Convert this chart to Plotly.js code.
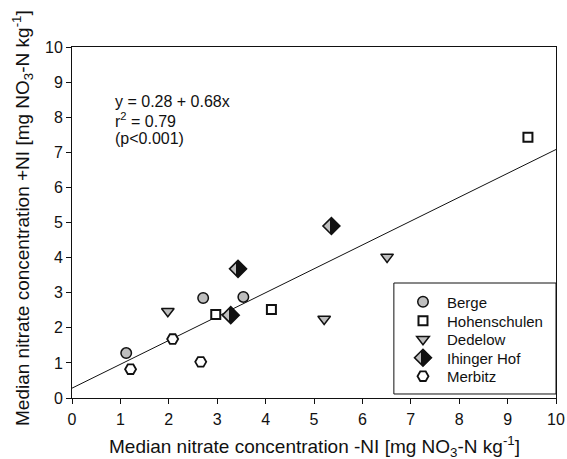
<!DOCTYPE html>
<html>
<head>
<meta charset="utf-8">
<script src="https://cdn.plot.ly/plotly-3.0.1.min.js"></script>
<style>html,body{margin:0;padding:0;background:#fff;}#chart{width:567px;height:459px;}</style>
</head>
<body>
<div id="chart"></div>
<script>
// Data
const bergeX = [1.12, 2.71, 3.54];
const bergeY = [1.28, 2.85, 2.88];
const hohenX = [2.97, 4.12, 9.42];
const hohenY = [2.38, 2.52, 7.43];
const dedelowX = [1.98, 5.21, 6.51];
const dedelowY = [2.47, 2.25, 4.02];
const ihingerX = [3.28, 3.43, 5.36];
const ihingerY = [2.36, 3.68, 4.90];
const merbitzX = [1.21, 2.08, 2.66];
const merbitzY = [0.82, 1.68, 1.03];
const fitX = [0, 10];
const fitY = [0.28, 7.08];
const seriesNames = ['Berge', 'Hohenschulen', 'Dedelow', 'Ihinger Hof', 'Merbitz'];
const tickVals = [0,1,2,3,4,5,6,7,8,9,10];
const statLines = ['y = 0.28 + 0.68x', 'r<sup>2</sup> = 0.79', '(p<0.001)'];
const xTitle = 'Median nitrate concentration -NI [mg NO<sub>3</sub>-N kg<sup>-1</sup>]';
const yTitle = 'Median nitrate concentration +NI [mg NO<sub>3</sub>-N kg<sup>-1</sup>]';

const font = 'Liberation Sans, Arial, sans-serif';
const ink = '#111111';
const gray = '#bebebe';

const traces = [
  {x: fitX, y: fitY, mode: 'lines', line: {color: ink, width: 1}, showlegend: false, hoverinfo: 'skip'},
  {x: bergeX, y: bergeY, name: seriesNames[0], mode: 'markers', type: 'scatter', legend: 'legend',
   marker: {symbol: 'circle', size: 10.5, color: gray, line: {color: ink, width: 1.5}}},
  {x: hohenX, y: hohenY, name: seriesNames[1], mode: 'markers', type: 'scatter', legend: 'legend2',
   marker: {symbol: 'square', size: 9, color: '#ffffff', line: {color: ink, width: 2}}},
  {x: dedelowX, y: dedelowY, name: seriesNames[2], mode: 'markers', type: 'scatter', legend: 'legend3',
   marker: {symbol: 'triangle-down', size: 11, color: gray, line: {color: ink, width: 1.5}}},
  {x: ihingerX, y: ihingerY, name: seriesNames[3], mode: 'markers', type: 'scatter', legend: 'legend4',
   marker: {symbol: 'diamond', size: 13, color: ink, line: {color: ink, width: 1.6},
            gradient: {type: 'horizontal', color: gray}}},
  {x: merbitzX, y: merbitzY, name: seriesNames[4], mode: 'markers', type: 'scatter', legend: 'legend5',
   marker: {symbol: 'hexagon2', size: 11, color: '#ffffff', line: {color: ink, width: 1.8}}}
];

const axisCommon = {
  range: [0, 10], tickvals: tickVals, ticks: 'outside', ticklen: 5, tickwidth: 1, tickcolor: ink,
  showline: true, linecolor: ink, linewidth: 1, mirror: true, showgrid: false, zeroline: false,
  tickfont: {family: font, size: 16, color: ink}
};

const legendBase = {x: 0.6756, xanchor: 'left', yanchor: 'middle', bgcolor: 'rgba(0,0,0,0)',
                    borderwidth: 0, itemwidth: 38, font: {family: font, size: 15, color: ink}};
const legendY = [0.2735, 0.2194, 0.1667, 0.1140, 0.0613];

const annotations = statLines.map((t, i) => ({
  xref: 'paper', yref: 'paper', x: 0.0847, y: [0.846, 0.792, 0.7407][i], xanchor: 'left', yanchor: 'middle',
  align: 'left', showarrow: false, text: t, font: {family: font, size: 16, color: ink}
}));
annotations.push({xref: 'paper', yref: 'paper', x: 0.5, y: -0.137, xanchor: 'center', yanchor: 'middle',
  showarrow: false, text: xTitle, font: {family: font, size: 19, color: ink}});
annotations.push({xref: 'paper', yref: 'paper', x: -0.1033, y: 0.5128, xanchor: 'center', yanchor: 'middle',
  textangle: -90, showarrow: false, text: yTitle, font: {family: font, size: 19, color: ink}});

const layout = {
  width: 567, height: 459,
  margin: {l: 72, r: 11, t: 47, b: 61},
  paper_bgcolor: '#fff', plot_bgcolor: '#fff',
  font: {family: font, color: ink},
  showlegend: true,
  xaxis: Object.assign({}, axisCommon, {ticklabelstandoff: 2}),
  yaxis: Object.assign({}, axisCommon),
  legend: Object.assign({}, legendBase, {y: legendY[0]}),
  legend2: Object.assign({}, legendBase, {y: legendY[1]}),
  legend3: Object.assign({}, legendBase, {y: legendY[2]}),
  legend4: Object.assign({}, legendBase, {y: legendY[3]}),
  legend5: Object.assign({}, legendBase, {y: legendY[4]}),
  shapes: [{type: 'rect', xref: 'paper', yref: 'paper', x0: 0.665, x1: 1, y0: 0.0114, y1: 0.3276,
            line: {color: ink, width: 1}, fillcolor: 'rgba(0,0,0,0)'}],
  annotations: annotations
};

Plotly.newPlot('chart', traces, layout, {displayModeBar: false, staticPlot: true}).then(function () {
  // half-filled diamond: hard split of the horizontal gradient (grey left, black right)
  document.querySelectorAll('linearGradient').forEach(function (g) {
    g.setAttribute('x1', '0'); g.setAttribute('x2', '1');
    g.setAttribute('y1', '0'); g.setAttribute('y2', '0');
    while (g.firstChild) g.removeChild(g.firstChild);
    [[0, gray], [0.4, gray], [0.4, ink], [1, ink]].forEach(function (s) {
      var st = document.createElementNS('http://www.w3.org/2000/svg', 'stop');
      st.setAttribute('offset', s[0]);
      st.setAttribute('stop-color', s[1]);
      g.appendChild(st);
    });
  });
});
</script>
</body>
</html>
